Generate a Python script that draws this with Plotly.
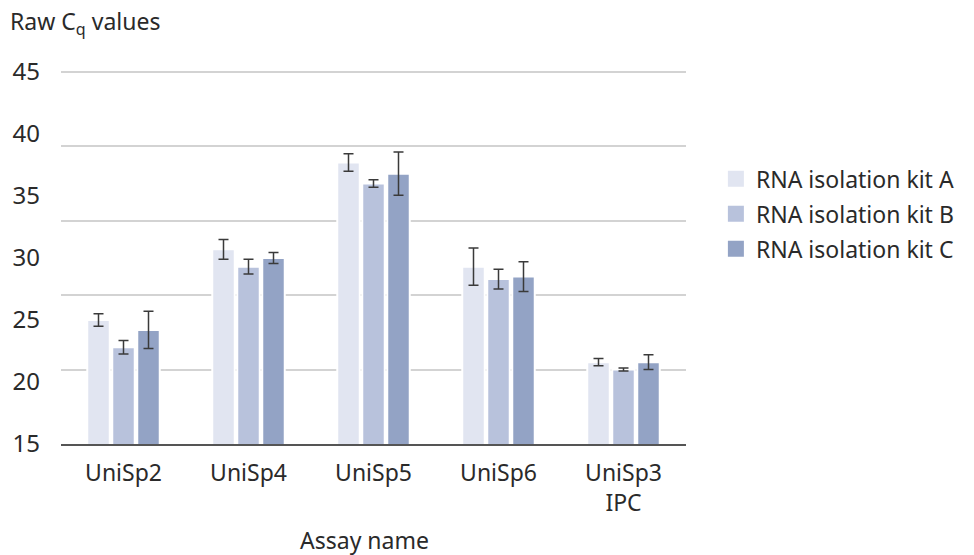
import plotly.graph_objects as go

categories = ["UniSp2", "UniSp4", "UniSp5", "UniSp6", "UniSp3<br>IPC"]
series_names = ["RNA isolation kit A", "RNA isolation kit B", "RNA isolation kit C"]
kit_a = [25.0, 30.7, 37.7, 29.3, 21.6]
kit_b = [22.8, 29.3, 36.0, 28.3, 21.0]
kit_c = [24.2, 30.0, 36.8, 28.5, 21.6]
err_a = [0.5, 0.8, 0.7, 1.5, 0.3]
err_b = [0.55, 0.6, 0.3, 0.8, 0.12]
err_c = [1.5, 0.45, 1.75, 1.2, 0.6]
y_ticks = [15, 20, 25, 30, 35, 40, 45]
colors = ["#e1e5f1", "#b8c2dc", "#93a3c5"]

FONT = "Noto Sans"
Y_RANGE = [15, 45.32]
fig = go.Figure()
for name, vals, errs, col in zip(series_names, [kit_a, kit_b, kit_c], [err_a, err_b, err_c], colors):
    fig.add_trace(go.Bar(
        x=categories, y=vals, name=name, showlegend=False,
        marker=dict(color=col, line=dict(color="white", width=2)),
        error_y=dict(type="data", array=errs, color="#3a3a3a", thickness=1.5, width=5),
    ))
for i, (name, col) in enumerate(zip(series_names, colors)):
    fig.add_trace(go.Scatter(
        x=[None], y=[None], yaxis="y2", mode="markers", name=name,
        legendgroup=f"g{i}",
        marker=dict(symbol="square", size=21, color=col),
    ))

fig.update_layout(
    width=974, height=555,
    margin=dict(l=61, r=288, t=68, b=111),
    paper_bgcolor="white", plot_bgcolor="white",
    font=dict(family=FONT, color="#2a2a2a", size=23),
    barmode="group", bargap=0.4, bargroupgap=0.1,
    xaxis=dict(showline=True, linecolor="#555555", linewidth=1.5,
               ticks="", tickfont=dict(size=23), showgrid=False,
               ticklabelstandoff=8),
    yaxis=dict(range=Y_RANGE, tickvals=y_ticks, showgrid=False, zeroline=False,
               tickfont=dict(size=24), ticks="", ticklabelstandoff=20),
    yaxis2=dict(overlaying="y", range=Y_RANGE, tick0=15, dtick=6, showgrid=True,
                gridcolor="#d3d3d3", gridwidth=1.5, showticklabels=False,
                zeroline=False, ticks="", side="left"),
    legend=dict(xref="container", x=0.735, y=0.612, xanchor="left", yanchor="middle",
                font=dict(size=23), tracegroupgap=2, bgcolor="rgba(0,0,0,0)"),
    annotations=[
        dict(text="Raw C<sub>q</sub> values", xref="paper", yref="paper",
             x=-0.085, y=1.122, xanchor="left", yanchor="middle",
             showarrow=False, font=dict(size=23)),
        dict(text="Assay name", xref="paper", yref="paper",
             x=0.486, y=-0.255, xanchor="center", yanchor="middle",
             showarrow=False, font=dict(size=23)),
    ],
)
fig.write_html("out.html", config={"displayModeBar": False},
               post_script="document.body.style.margin='0';")
